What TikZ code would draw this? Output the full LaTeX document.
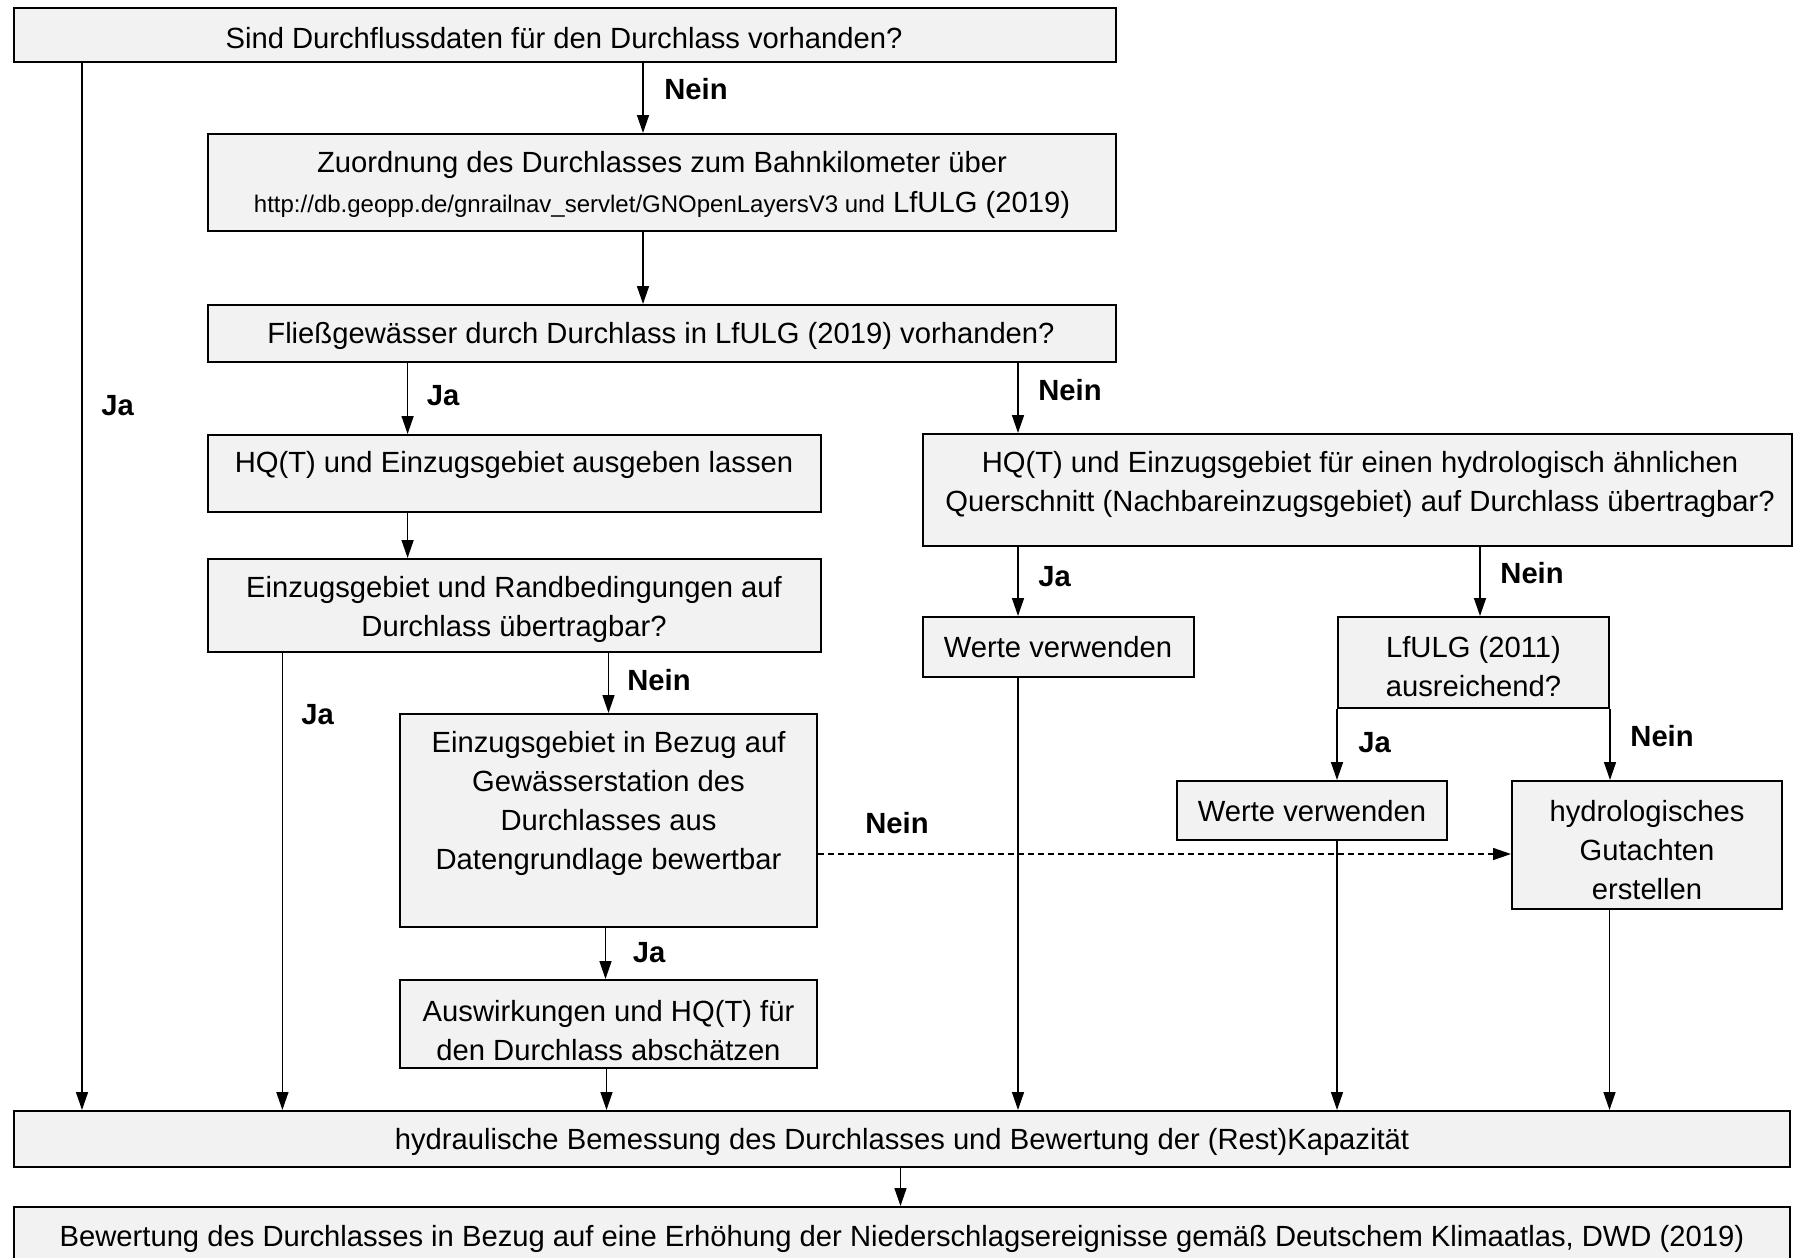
\documentclass[tikz,border=0pt]{standalone}
\usepackage{fontspec}
\setmainfont{Liberation Sans}
\usetikzlibrary{arrows.meta,fit}
\definecolor{boxgray}{HTML}{F2F2F2}
\newcommand\mainsz{\fontsize{14.6pt}{19.5pt}\selectfont}
\newcommand\urlsz{\fontsize{12pt}{14pt}\selectfont}
\begin{document}
\begin{tikzpicture}[x=0.5pt,y=-0.5pt,
  box/.style={draw=black, line width=1pt, fill=boxgray, inner sep=0pt},
  txt/.style={align=center, font=\mainsz, inner sep=0pt, yshift=-1.2pt},
  lbl/.style={font=\mainsz\bfseries, anchor=west, inner sep=0pt},
  conn/.style={line width=0.75pt, -{Triangle[length=9pt,width=6pt]}},
  plain/.style={line width=0.75pt}
]
\useasboundingbox (0,0) rectangle (1794,1258);

% boxes
\node[box, fit={(14,8) (1116,62)}] (T) {};
\node[box, fit={(208,134) (1116,231)}] (Z) {};
\node[box, fit={(208,305) (1116,362)}] (F) {};
\node[box, fit={(208,435) (821,512)}] (HQ) {};
\node[box, fit={(208,559) (821,652)}] (E) {};
\node[box, fit={(923,434) (1792,546)}] (R) {};
\node[box, fit={(923,617) (1194,677)}] (W1) {};
\node[box, fit={(1338,617) (1609,708)}] (L) {};
\node[box, fit={(400,714) (817,927)}] (B) {};
\node[box, fit={(400,980) (817,1068)}] (A) {};
\node[box, fit={(1177,781) (1447,840)}] (W2) {};
\node[box, fit={(1512,781) (1782,909)}] (G) {};
\node[box, fit={(14,1111) (1790,1167)}] (H) {};
\node[box, fit={(14,1207) (1790,1280)}] (D) {};

% texts
\node[txt] (tT) at (564,35.5) {Sind Durchflussdaten für den Durchlass vorhanden?};
\node[txt] (tZ) at (662,182.5) {Zuordnung des Durchlasses zum Bahnkilometer über\\[0.5pt]
  {\urlsz http://db.geopp.de/gnrailnav\_servlet/GNOpenLayersV3 und} LfULG (2019)};
\node[txt] (tF) at (661,334) {Fließgewässer durch Durchlass in LfULG (2019) vorhanden?};
\node[txt] (tHQ) at (514,463) {HQ(T) und Einzugsgebiet ausgeben lassen};
\node[txt] (tE) at (514,607.5) {Einzugsgebiet und Randbedingungen auf\\Durchlass übertragbar?};
\node[txt] (tR) at (1360,482.5) {HQ(T) und Einzugsgebiet für einen hydrologisch ähnlichen\\Querschnitt (Nachbareinzugsgebiet) auf Durchlass übertragbar?};
\node[txt] (tW1) at (1058,645) {Werte verwenden};
\node[txt] (tL) at (1473.5,664.5) {LfULG (2011)\\ausreichend?};
\node[txt] (tB) at (608.5,801.5) {Einzugsgebiet in Bezug auf\\Gewässerstation des\\Durchlasses aus\\Datengrundlage bewertbar};
\node[txt] (tA) at (608.5,1028.5) {Auswirkungen und HQ(T) für\\den Durchlass abschätzen};
\node[txt] (tW2) at (1312,809) {Werte verwenden};
\node[txt] (tG) at (1647,848) {hydrologisches\\Gutachten\\erstellen};
\node[txt] (tH) at (902,1139.5) {hydraulische Bemessung des Durchlasses und Bewertung der (Rest)Kapazität};
\node[txt] (tD) at (902,1237) {Bewertung des Durchlasses in Bezug auf eine Erhöhung der Niederschlagsereignisse gemäß Deutschem Klimaatlas, DWD (2019)};

% connectors
\draw[conn] (643,0 |- T.south) -- (643,0 |- Z.north);
\draw[conn] (643,0 |- Z.south) -- (643,0 |- F.north);
\draw[conn] (82,0 |- T.south) -- (82,0 |- H.north);
\draw[conn] (407.6,0 |- F.south) -- (407.6,0 |- HQ.north);
\draw[conn] (1018,0 |- F.south) -- (1018,0 |- R.north);
\draw[conn] (407.6,0 |- HQ.south) -- (407.6,0 |- E.north);
\draw[conn] (282.4,0 |- E.south) -- (282.4,0 |- H.north);
\draw[conn] (608.5,0 |- E.south) -- (608.5,0 |- B.north);
\draw[conn] (605.5,0 |- B.south) -- (605.5,0 |- A.north);
\draw[conn] (606.5,0 |- A.south) -- (606.5,0 |- H.north);
\draw[conn, dash pattern=on 3pt off 2pt] (B.east |- 0,854) -- (G.west |- 0,854);
\draw[conn] (1018,0 |- R.south) -- (1018,0 |- W1.north);
\draw[conn] (1480,0 |- R.south) -- (1480,0 |- L.north);
\draw[conn] (1018,0 |- W1.south) -- (1018,0 |- H.north);
\draw[conn] (L.south west) -- (L.south west |- W2.north);
\draw[conn] (L.south east) -- (L.south east |- G.north);
\draw[conn] (L.south west |- W2.south) -- (L.south west |- H.north);
\draw[conn] (1609.5,0 |- G.south) -- (1609.5,0 |- H.north);
\draw[conn] (900.5,0 |- H.south) -- (900.5,0 |- D.north);

% labels
\node[lbl] (n1) at (664,89) {Nein};
\node[lbl] (j1) at (101,406) {Ja};
\node[lbl] (j2) at (426.5,396) {Ja};
\node[lbl] (n2) at (1038,390) {Nein};
\node[lbl] (j3) at (301,715) {Ja};
\node[lbl] (n3) at (627,680) {Nein};
\node[lbl] (j4) at (632.5,953) {Ja};
\node[lbl] (n4) at (865,823.5) {Nein};
\node[lbl] (j5) at (1038,577) {Ja};
\node[lbl] (n5) at (1500,573) {Nein};
\node[lbl] (j6) at (1358,742.5) {Ja};
\node[lbl] (n6) at (1630,736) {Nein};
\end{tikzpicture}
\end{document}
